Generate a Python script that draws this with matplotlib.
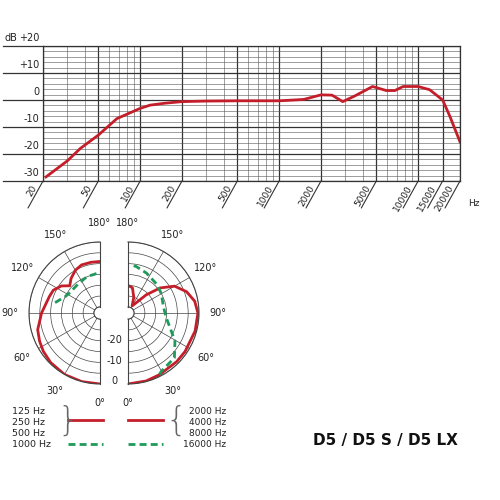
import matplotlib
matplotlib.use('Agg')
import matplotlib.pyplot as plt
import numpy as np
from matplotlib.lines import Line2D

# frequency response
freq = [21, 30, 37, 50, 68, 100, 118, 150, 200, 300, 500, 1000, 1500, 2000, 2400, 2870, 3500, 4700, 5900, 6800, 7800,
        10000, 12100, 15000, 16900, 20000]
db = [-28.5, -22.5, -18, -13, -6.9, -3.1, -1.9, -1.2, -0.6, -0.4, -0.3, -0.3, 0.2, 1.9, 1.8, -0.6, 1.5, 5, 3.5, 3.5, 5,
      5, 3.8, 0, -6, -15.5]
tick_freqs = [20, 50, 100, 200, 500, 1000, 2000, 5000, 10000, 15000, 20000]
db_labels = ['+20', '+10', '0', '-10', '-20', '-30']
db_values = [20, 10, 0, -10, -20, -30]

# polar data (angle in degrees, level in dB)
low_ang = [0, 15, 30, 45, 56, 65, 75, 90, 100, 108, 116, 125, 132, 140, 150, 159, 170, 180]
low_db = [0, 0, 0, -0.5, -1.2, -2, -3, -5.8, -7.5, -8.2, -8.8, -11, -14, -12, -10, -9, -9, -9]
k1_ang = [103, 115, 124, 143, 160, 180]
k1_db = [-11.5, -15, -16, -16, -15, -14]
high_ang = [0, 15, 27, 45, 56, 75, 90, 100, 110, 120, 128, 135, 142, 150, 160, 170, 180]
high_db = [0, -0.3, -0.8, -1, -1, -0.7, -0.5, -1.5, -4, -8, -14, -21, -27, -29, -25, -21, -20]
k16_ang = [27, 30, 46, 59, 70, 83, 95, 108, 120, 135, 155, 170, 176]
k16_db = [-1, -1.8, -3, -7.5, -12, -15, -16, -16, -15, -14, -12.5, -11, -10.5]

red = '#c41e2a'
green = '#1e9a5a'

fig = plt.figure(figsize=(5, 5), dpi=100)
fig.patch.set_facecolor('white')

# ---- frequency response ----
ax = fig.add_axes([43/500, 1-181/500, 417/500, 135/500])
ax.set_xscale('log')
ax.set_xlim(20, 20000)
ax.set_ylim(-30, 20)
ax.plot(freq, db, color=red, lw=2)
ax.set_xticks(tick_freqs)
ax.set_xticks([f for d in [10, 100, 1000, 10000] for f in np.arange(2, 10) * d
               if 20 < f < 20000 and f not in tick_freqs], minor=True)
ax.set_yticks(db_values)
ax.set_yticks(np.arange(-30, 21, 2), minor=True)
ax.grid(which='major', color='#333333', lw=0.9)
ax.grid(which='minor', color='#555555', lw=0.4)
ax.tick_params(which='both', length=0, labelbottom=False, labelleft=False)
for s in ax.spines.values():
    s.set_color('#333333')
    s.set_linewidth(0.9)
for v, lab in zip(db_values, db_labels):
    ax.plot([-0.095, 0], [(v + 30) / 50] * 2, transform=ax.transAxes, color='#333333', lw=0.9, clip_on=False)
    ax.annotate(lab, xy=(0, v), xycoords=('axes fraction', 'data'), xytext=(-4, 3),
                textcoords='offset pixels', ha='right', va='bottom', fontsize=7, color='#222222')
ax.annotate('dB', xy=(0, 20), xycoords=('axes fraction', 'data'), xytext=(-26, 3),
            textcoords='offset pixels', ha='right', va='bottom', fontsize=7, color='#222222')
for f in tick_freqs:
    ax.annotate('', xy=(f, -30), xytext=(-15, -27), textcoords='offset pixels',
                arrowprops=dict(arrowstyle='-', color='#333333', lw=0.8, shrinkA=0, shrinkB=0))
    ax.annotate(str(f), xy=(f, -30), xytext=(-8, -5), textcoords='offset pixels', rotation=60,
                rotation_mode='anchor', ha='right', va='center', fontsize=6.5, color='#222222')
ax.annotate('Hz', xy=(1, 0), xycoords='axes fraction', xytext=(8, -22), textcoords='offset pixels',
            fontsize=6.5, color='#222222', va='center')

# ---- polar halves ----
def half_polar(rect, direction):
    p = fig.add_axes(rect, projection='polar')
    p.set_theta_zero_location('S')
    p.set_theta_direction(direction)
    p.set_thetamin(0)
    p.set_thetamax(180)
    p.set_rlim(-30, 0)
    p.set_rorigin(-32.8)
    p.set_rticks(np.arange(-30, 1, 5))
    p.set_yticklabels([])
    p.set_thetagrids(np.arange(0, 181, 30), [f'{a}°' for a in range(0, 181, 30)], fontsize=7, color='#222222')
    p.tick_params(axis='x', pad=3)
    p.grid(color='#444444', lw=0.5)
    p.patch.set_alpha(0)
    for s in p.spines.values():
        s.set_color('#444444')
        s.set_linewidth(0.8)
    return p

lp = half_polar([-6.5/500, 0.232, 142/500, 142/500], -1)
lp.plot(np.radians(low_ang), low_db, color=red, lw=2)
lp.plot(np.radians(k1_ang), k1_db, color=green, lw=2, ls=(0, (2.5, 1.5)))

rp = half_polar([92.5/500, 0.232, 142/500, 142/500], 1)
rp.plot(np.radians(high_ang), high_db, color=red, lw=2)
rp.plot(np.radians(k16_ang), k16_db, color=green, lw=2, ls=(0, (2.5, 1.5)))

for y, t in [(0.238, '0'), (0.277, '-10'), (0.320, '-20')]:
    fig.text(0.228, y, t, ha='center', va='center', fontsize=7, color='#222222')

# ---- legend ----
fig.text(0.024, 0.144, '125 Hz\n250 Hz\n500 Hz\n1000 Hz', fontsize=6.8, va='center', linespacing=1.25, color='#222222')
fig.text(0.452, 0.144, '2000 Hz\n4000 Hz\n8000 Hz\n16000 Hz', fontsize=6.5, va='center', ha='right',
         linespacing=1.3, color='#222222')
fig.text(0.115, 0.157, '}', fontsize=24, va='center', color='#666666', fontweight='light')
fig.text(0.33, 0.157, '{', fontsize=24, va='center', color='#666666', fontweight='light')
fig.add_artist(Line2D([0.135, 0.205], [0.16, 0.16], color=red, lw=2))
fig.add_artist(Line2D([0.255, 0.325], [0.16, 0.16], color=red, lw=2))
fig.add_artist(Line2D([0.135, 0.205], [0.113, 0.113], color=green, lw=2, ls=(0, (2.5, 1.5))))
fig.add_artist(Line2D([0.255, 0.325], [0.113, 0.113], color=green, lw=2, ls=(0, (2.5, 1.5))))

fig.text(0.77, 0.118, 'D5 / D5 S / D5 LX', fontsize=11, fontweight='bold', ha='center', va='center',
         color='#111111')

fig.savefig('out.png', dpi=100, facecolor='white')
